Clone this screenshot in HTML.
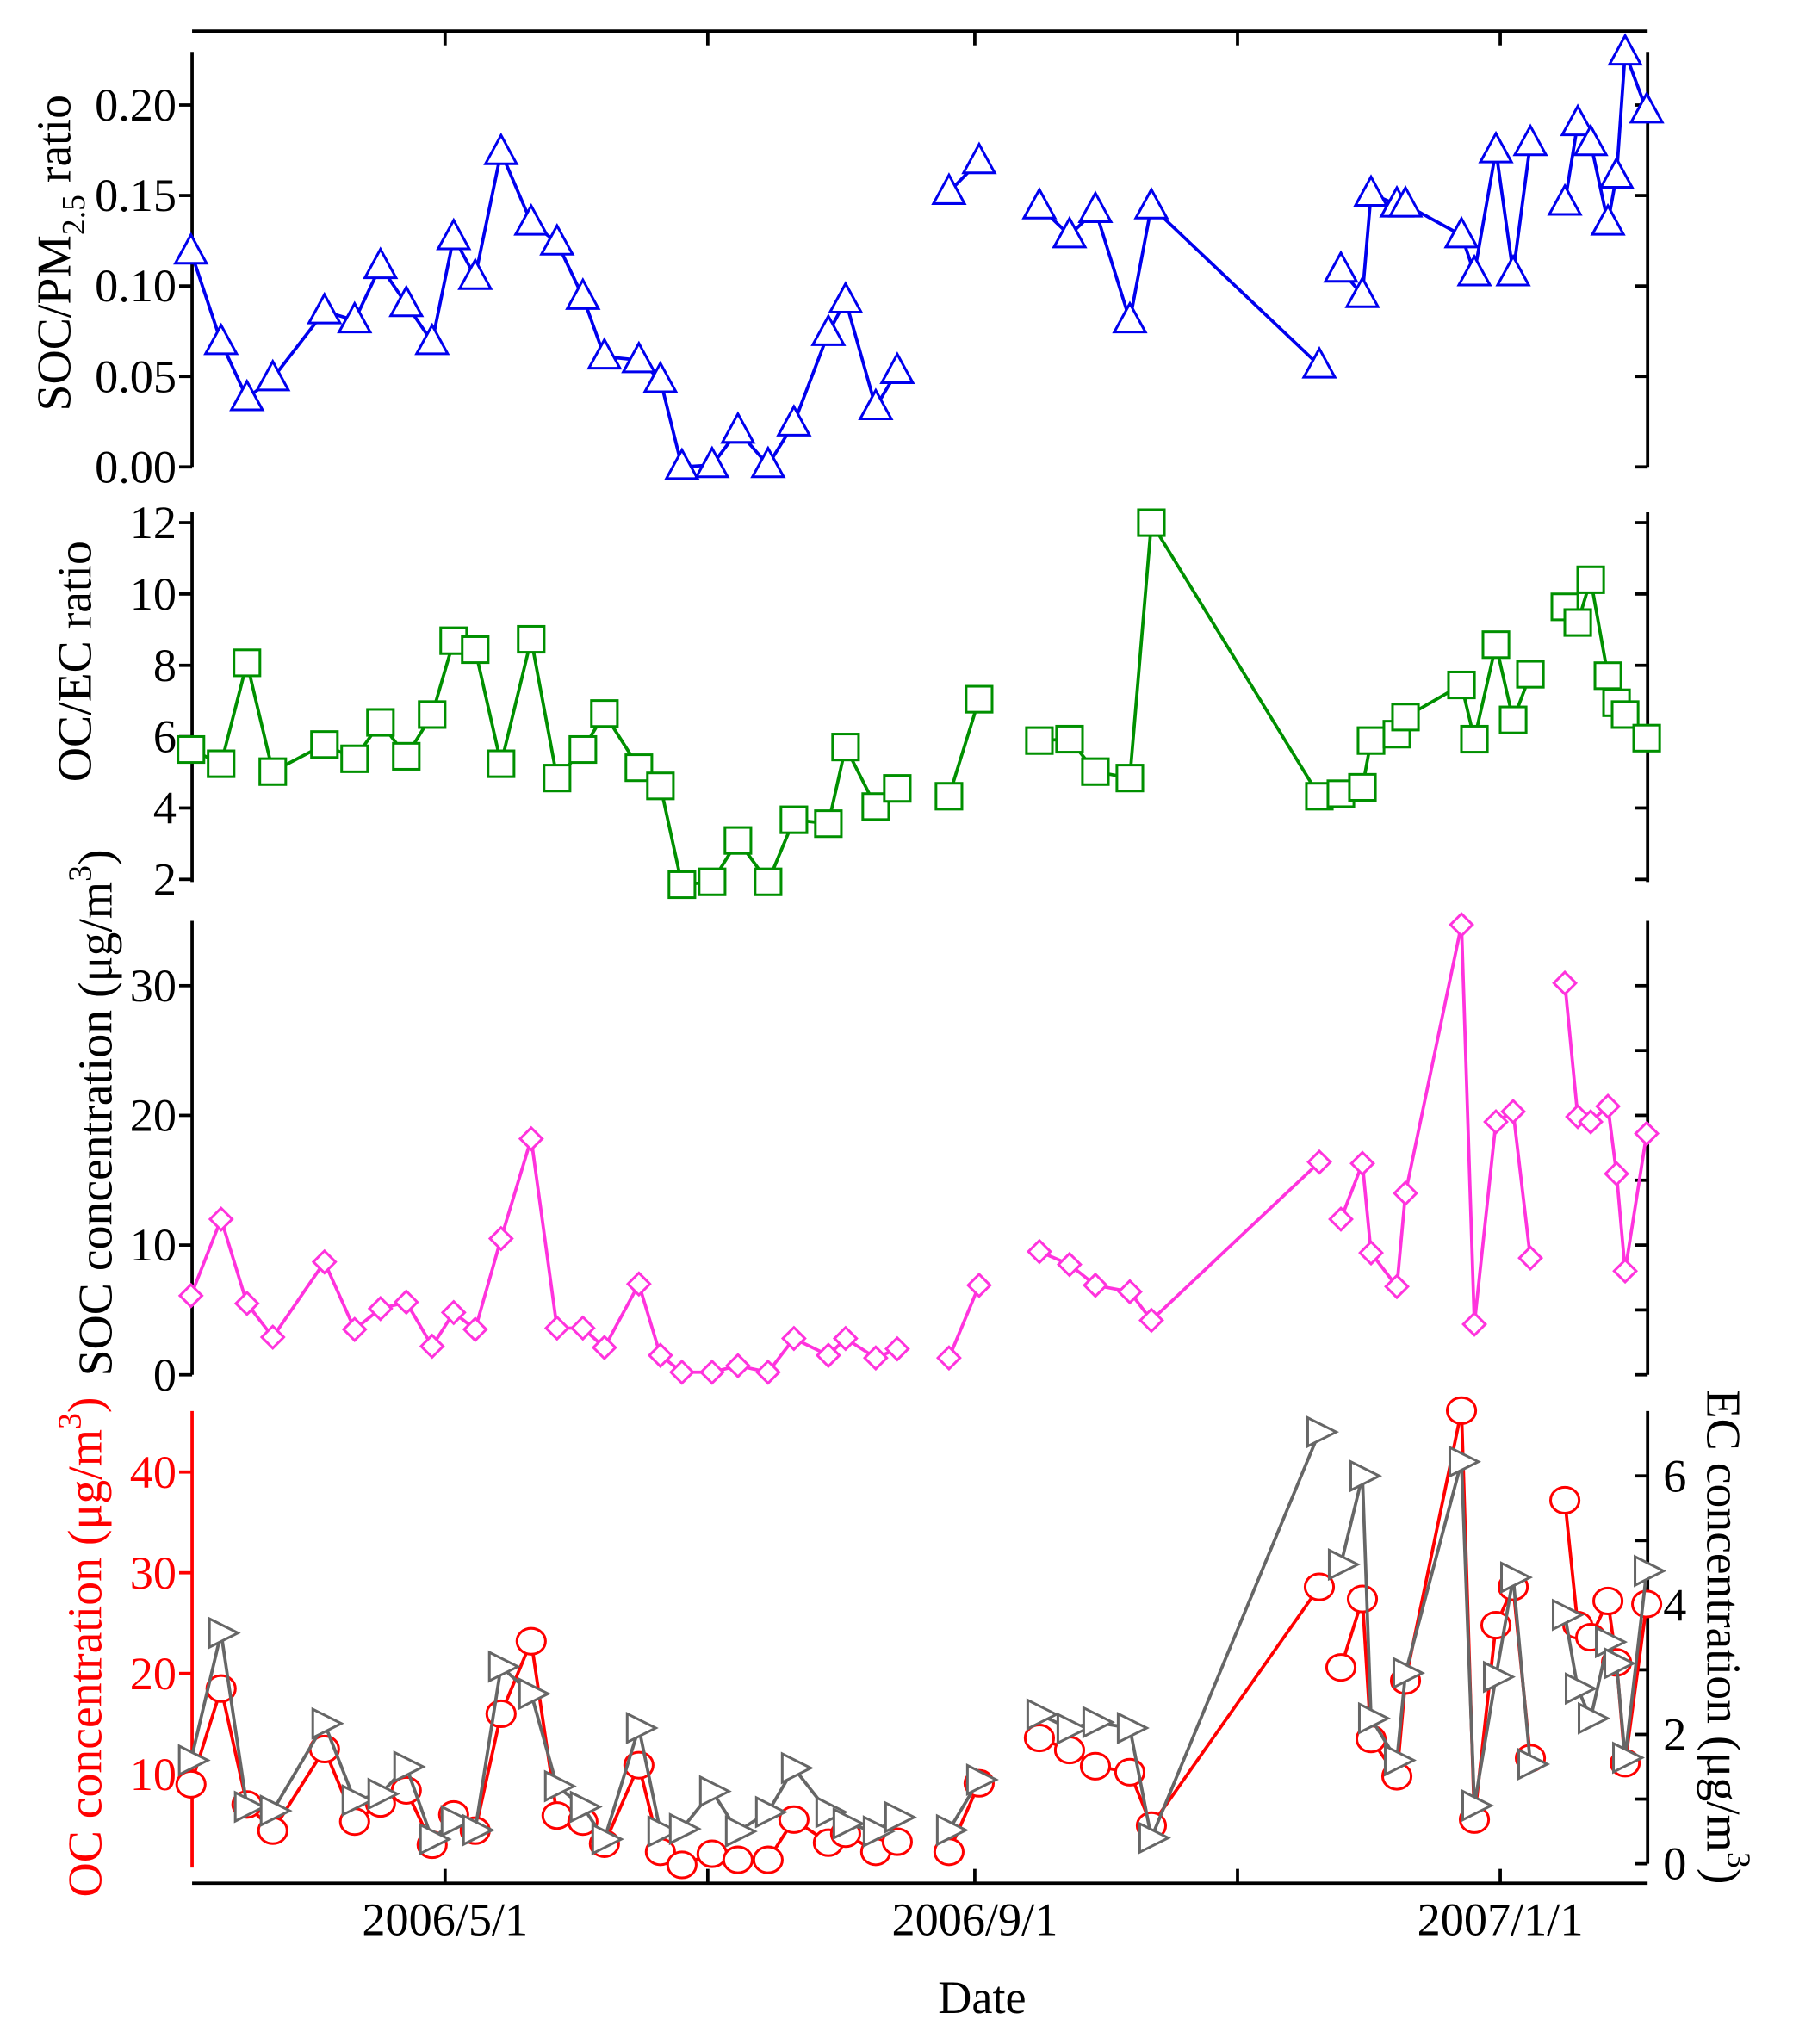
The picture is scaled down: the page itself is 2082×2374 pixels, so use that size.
<!DOCTYPE html>
<html><head><meta charset="utf-8"><style>
html,body{margin:0;padding:0;background:#fff}
svg{display:block}
text{font-family:"Liberation Serif","Times New Roman",serif}
</style></head><body>
<svg id="chart" width="2082" height="2374" viewBox="0 0 1382 1576" xmlns="http://www.w3.org/2000/svg">
<g id="axes"></g>
<g id="marks"></g>
</svg>
<script>
// days since 2006/5/1
const days = [-59,-52,-46,-40,-28,-21,-15,-9,-3,2,7,13,20,26,32,37,45,50,55,62,68,75,81,89,93,100,105,117,124,138,145,151,159,164,203,208,213,215,221,223,236,239,244,248,252,260,263,266,270,272,274,279];
const socPm = [0.119,0.069,0.038,0.049,0.086,0.081,0.111,0.090,0.069,0.127,0.105,0.174,0.135,0.124,0.094,0.061,0.059,0.048,0.0,0.001,0.020,0.001,0.024,0.074,0.092,0.033,0.053,0.152,0.169,0.144,0.128,0.142,0.081,0.144,0.056,0.109,0.095,0.151,0.145,0.145,0.128,0.107,0.175,0.107,0.179,0.146,0.190,0.179,0.135,0.161,0.229,0.197];
const ocEc = [5.64,5.24,8.07,5.02,5.78,5.38,6.4,5.45,6.62,8.69,8.44,5.24,8.73,4.84,5.64,6.65,5.13,4.62,1.85,1.93,3.09,1.93,3.67,3.56,5.71,4.04,4.55,4.33,7.05,5.89,5.93,5.02,4.84,12.0,4.33,4.4,4.58,5.89,6.07,6.55,7.45,5.93,8.58,6.47,7.75,9.64,9.2,10.4,7.71,6.95,6.62,5.96];
const socConc = [6.1,12.0,5.5,2.9,8.7,3.5,5.1,5.6,2.2,4.8,3.5,10.5,18.2,3.6,3.6,2.1,7.0,1.5,0.2,0.2,0.7,0.2,2.8,1.5,2.8,1.3,2.0,1.3,6.9,9.5,8.5,6.9,6.4,4.2,16.4,12.0,16.3,9.4,6.8,14.0,34.7,3.9,19.5,20.3,9.0,30.2,19.9,19.5,20.7,15.5,8.0,18.6];
const ocConc = [9.0,18.5,7.0,4.4,12.5,5.3,7.1,8.4,3.0,6.0,4.4,16.0,23.2,5.9,5.3,3.1,10.9,2.3,1.0,2.1,1.5,1.5,5.5,3.2,4.1,2.3,3.3,2.3,9.1,13.6,12.4,10.8,10.2,4.9,28.6,20.6,27.4,13.5,9.8,19.3,46.1,5.5,24.8,28.6,11.6,37.2,24.8,23.6,27.2,21.1,11.1,26.9];
const ecConc = [1.6,3.57,0.88,0.82,2.17,0.98,1.08,1.5,0.38,0.66,0.52,3.05,2.63,1.2,0.88,0.38,2.1,0.5,0.54,1.12,0.5,0.8,1.48,0.8,0.62,0.5,0.72,0.52,1.3,2.31,2.09,2.19,2.1,0.4,6.68,4.63,6.0,2.25,1.6,2.95,6.22,0.9,2.89,4.43,1.54,3.85,2.71,2.25,3.43,3.1,1.64,4.53];
// indices where a new line segment begins
const breaksA = [27,29,35,45];
const breaksB = [27,29,45];
const dateTicks = [0,123,245];
const dateLabels = ["2006/5/1","2006/9/1","2007/1/1"];
const minorDateTicks = [61,184];

const NS="http://www.w3.org/2000/svg";
const axesG=document.getElementById('axes'), marksG=document.getElementById('marks');
const X0=148,X1=1270;
const xS=d=>343+d*3.32;
function el(t,a,p){const e=document.createElementNS(NS,t);for(const k in a)e.setAttribute(k,a[k]);(p||axesG).appendChild(e);return e;}
function lin(d0,d1,r0,r1){return v=>r0+(v-d0)*(r1-r0)/(d1-d0);}
const yA=lin(0,0.2,360,81), yB=lin(2,12,678,403), yC=lin(0,30,1060,760), yD=lin(10,40,1368,1135), yE=lin(0,6,1437,1138);

let l=el('line',{x1:X0,y1:24,x2:X1,y2:24,stroke:'#000','stroke-width':2.5});

l=el('line',{x1:X0,y1:1452,x2:X1,y2:1452,stroke:'#000','stroke-width':2.5});

dateTicks.concat(minorDateTicks).forEach(d=>{
  el('line',{x1:xS(d),y1:24,x2:xS(d),y2:35,stroke:'#000','stroke-width':2.5});
  el('line',{x1:xS(d),y1:1452,x2:xS(d),y2:1441,stroke:'#000','stroke-width':2.5});
});
dateTicks.forEach((d,i)=>{
  const t=el('text',{x:xS(d),y:1492,'font-size':36,'text-anchor':'middle'});t.textContent=dateLabels[i];
  
});
let t=el('text',{x:757,y:1552,'font-size':36,'text-anchor':'middle'});t.textContent='Date';


function yAxis(name,x,top,bot,ticks,fmt,scale,color,side,labels,minor){
  const g=el('g',{});
  
  el('line',{x1:x,y1:top,x2:x,y2:bot,stroke:color,'stroke-width':2.5},g);
  ticks.forEach(v=>{
    const y=scale(v);
    el('line',{x1:x,y1:y,x2:x-10,y2:y,stroke:color,'stroke-width':2.5},g);
    if(labels){
      const tt=el('text',{x:side==='left'?x-12:x+12,y:y+12,'font-size':36,'text-anchor':side==='left'?'end':'start',fill:color},g);
      tt.textContent=fmt(v);
    }
  });
  (minor||[]).forEach(v=>{const y=scale(v);el('line',{x1:x,y1:y,x2:x-10,y2:y,stroke:color,'stroke-width':2.5},g);});
}
const tA=[0,0.05,0.1,0.15,0.2], tB=[2,4,6,8,10,12], tC=[0,10,20,30], tD=[10,20,30,40], tE=[0,2,4,6];
yAxis('soc-pm-left-axis',X0,40,360,tA,v=>v.toFixed(2),yA,'#000','left',true);
yAxis('soc-pm-right-axis',X1,40,360,tA,null,yA,'#000','right',false);
yAxis('oc-ec-left-axis',X0,395,680,tB,v=>v,yB,'#000','left',true);
yAxis('oc-ec-right-axis',X1,395,680,tB,null,yB,'#000','right',false);
yAxis('soc-conc-left-axis',X0,710,1060,tC,v=>v,yC,'#000','left',true);
yAxis('soc-conc-right-axis',X1,710,1060,tC,null,yC,'#000','right',false,[5,15,25]);
yAxis('oc-left-axis',X0,1088,1440,tD,v=>v,yD,'#f00','left',true);
yAxis('ec-right-axis',X1,1088,1437,tE,v=>v,yE,'#000','right',true,[1,3,5]);

function title(name,x,y,rot,html,color){
  const tt=el('text',{transform:`translate(${x},${y}) rotate(${rot})`,'font-size':37,'text-anchor':'middle',fill:color});
  tt.innerHTML=html;
}
title('soc-pm-axis-title',54,195,-90,'SOC/PM<tspan font-size="25" dy="11">2.5</tspan><tspan dy="-11"> ratio</tspan>','#000');
title('oc-ec-axis-title',70,510,-90,'OC/EC ratio','#000');
title('soc-conc-axis-title',86,858,-90,'SOC concentration (μg/m<tspan font-size="25" dy="-16">3</tspan><tspan dy="16">)</tspan>','#000');
title('oc-conc-axis-title',78,1270,-90,'OC concentration (μg/m<tspan font-size="25" dy="-16">3</tspan><tspan dy="16">)</tspan>','#f00');
title('ec-conc-axis-title',1316,1262,90,'EC concentration (μg/m<tspan font-size="25" dy="-16">3</tspan><tspan dy="16">)</tspan>','#000');

function marker(type,x,y,color,g){
  let m;
  if(type==='tri') m=el('polygon',{points:`${x},${y-13} ${x-12},${y+9} ${x+12},${y+9}`},g);
  else if(type==='sq') m=el('rect',{x:x-10,y:y-10,width:20,height:20},g);
  else if(type==='dia') m=el('polygon',{points:`${x},${y-8.5} ${x+8.5},${y} ${x},${y+8.5} ${x-8.5},${y}`},g);
  else if(type==='circ') m=el('ellipse',{cx:x,cy:y,rx:11,ry:10},g);
  else m=el('polygon',{points:`${x+13},${y} ${x-9},${y-11} ${x-9},${y+11}`},g);
  m.setAttribute('fill','#fff');m.setAttribute('stroke',color);m.setAttribute('stroke-width',2);
  return m;
}
function series(name,vals,scale,color,type,breaks){
  const g=el('g',{},marksG);
  
  let d='';
  vals.forEach((v,i)=>{d+=(i===0||breaks.includes(i)?'M':'L')+xS(days[i])+','+scale(v)+' ';});
  const p=el('path',{d:d,fill:'none',stroke:color,'stroke-width':2.5,'stroke-linejoin':'round'},g);
  
  vals.forEach((v,i)=>{
    const m=marker(type,xS(days[i]),scale(v),color,g);
    
    
  });
}
series('soc-pm-ratio-series',socPm,yA,'#0000ee','tri',breaksA);
series('oc-ec-ratio-series',ocEc,yB,'#009000','sq',breaksB);
series('soc-concentration-series',socConc,yC,'#ff33dd','dia',breaksA);
series('oc-concentration-series',ocConc,yD,'#ff0000','circ',breaksA);
series('ec-concentration-series',ecConc,yE,'#666666','rtri',breaksA);
</script>
</body></html>
